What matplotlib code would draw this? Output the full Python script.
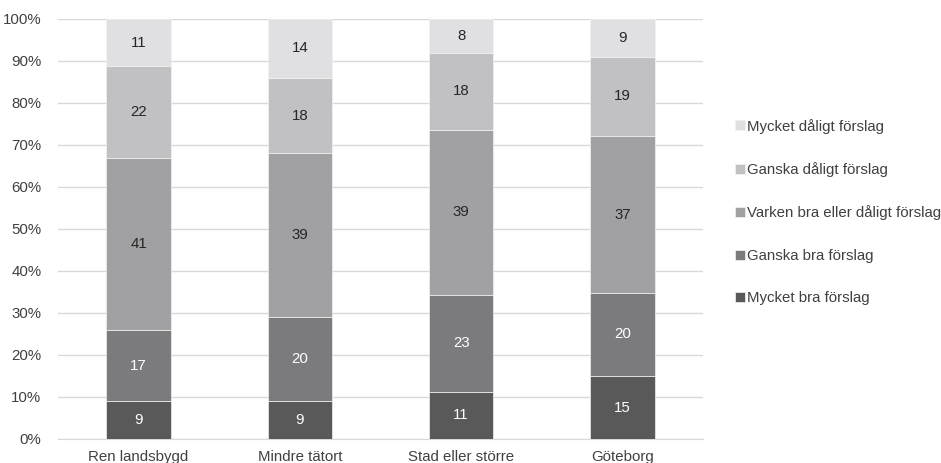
import numpy as np
import matplotlib.pyplot as plt
from matplotlib.ticker import PercentFormatter

plt.rcParams['font.family'] = ['Liberation Sans', 'DejaVu Sans']

categories = ['Ren landsbygd', 'Mindre tätort', 'Stad eller större', 'Göteborg']
series = ['Mycket bra förslag', 'Ganska bra förslag', 'Varken bra eller dåligt förslag',
          'Ganska dåligt förslag', 'Mycket dåligt förslag']
mycket_bra = [9.0, 9.0, 11.2, 15.0]
ganska_bra = [17.0, 20.0, 23.1, 19.8]
varken = [40.9, 39.0, 39.3, 37.3]
ganska_daligt = [21.9, 18.0, 18.3, 18.9]
mycket_daligt = [11.2, 14.0, 8.1, 9.0]

colors = ['#595959', '#7b7b7d', '#a1a1a3', '#c1c1c3', '#e0e0e2']
text_colors = ['white', 'white', '#262626', '#262626', '#262626']

fig = plt.figure(figsize=(9.41, 4.63), dpi=100)
ax = fig.add_axes([58 / 941, 24 / 463, 645 / 941, 420 / 463])

x = np.arange(len(categories))
bottom = np.zeros(len(categories))
for vals, name, c, tc in zip([mycket_bra, ganska_bra, varken, ganska_daligt, mycket_daligt],
                             series, colors, text_colors):
    vals = np.array(vals)
    ax.bar(x, vals, 0.4, bottom=bottom, color=c, edgecolor='#f2f2f2',
           linewidth=0.5, label=name, zorder=3)
    for xi, v, b in zip(x, vals, bottom):
        ax.text(xi, b + v / 2, f'{round(v):d}', ha='center', va='center',
                color=tc, fontsize=10.8, zorder=4)
    bottom += vals

ax.set_xlim(-0.5, 3.5)
ax.set_ylim(0, 100)
ax.set_yticks(np.arange(0, 101, 10))
ax.yaxis.set_major_formatter(PercentFormatter(decimals=0))
ax.set_xticks(x)
ax.set_xticklabels(categories)
ax.tick_params(axis='both', length=0, labelsize=10.8, colors='#404040')
ax.tick_params(axis='y', pad=12)
ax.tick_params(axis='x', pad=8)
ax.grid(axis='y', color='#d9d9d9', linewidth=1, zorder=0)
for s in ['top', 'right', 'left']:
    ax.spines[s].set_visible(False)
ax.spines['bottom'].set_color('#d9d9d9')

handles, labels = ax.get_legend_handles_labels()
leg = fig.legend(handles[::-1], labels[::-1], loc='center left',
                 bbox_to_anchor=(729 / 941, 1 - 212 / 463), frameon=False,
                 fontsize=10.8, handlelength=0.65, handleheight=0.65,
                 handletextpad=0.15, labelspacing=1.9, borderaxespad=0)
for t in leg.get_texts():
    t.set_color('#404040')

fig.savefig('out.png', dpi=100)
